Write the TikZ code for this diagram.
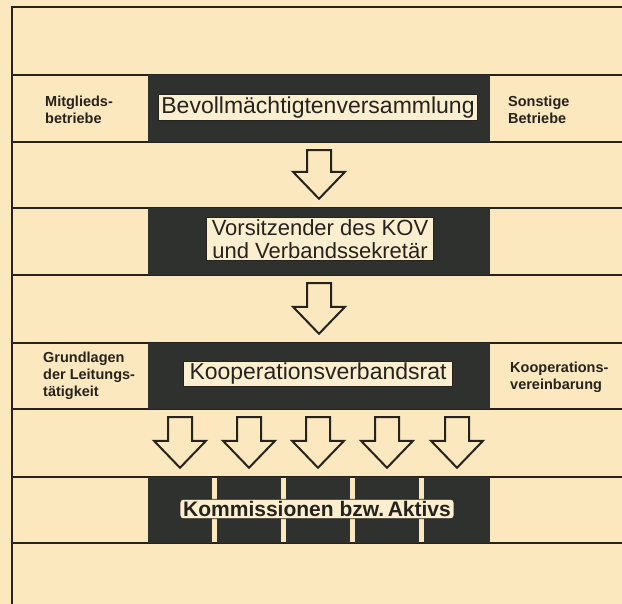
\documentclass[tikz,border=0pt]{standalone}
\usepackage{fontspec}
\setmainfont{Liberation Sans}
\usepackage{xcolor}
\usetikzlibrary{positioning, calc}
\definecolor{paper}{RGB}{251,232,190}
\definecolor{paperL}{RGB}{252,239,208}
\definecolor{ink}{RGB}{38,34,30}
\definecolor{slate}{RGB}{47,49,46}
\tikzset{
  rule/.style={draw=ink, line width=1.6pt},
  band/.style={draw=none, fill=slate, inner sep=0pt,
               minimum width=342pt, minimum height=67pt},
  tbox/.style={draw=ink, line width=0.6pt, fill=paperL, text=ink,
               inner xsep=3pt, inner ysep=2pt, align=center,
               font=\fontsize{23}{20}\selectfont},
  lbl/.style={anchor=west, align=left, inner sep=0pt, text=ink,
              font=\fontsize{14.5}{17}\selectfont\bfseries},
  blockarrow/.style={draw=ink, line width=2pt, fill=paper, line join=miter,
    to path={let \p1=(\tikztostart), \p2=(\tikztotarget) in
      (\x2-12pt,\y1-8pt) -- (\x2+12pt,\y1-8pt) -- (\x2+12pt,\y2+36pt)
      -- (\x2+26pt,\y2+36pt) -- (\x2,\y2+9pt) -- (\x2-26pt,\y2+36pt)
      -- (\x2-12pt,\y2+36pt) -- cycle}},
}
\begin{document}
\begin{tikzpicture}[x=1pt, y=-1pt]
    \fill[paper] (0,0) rectangle (622,604);
    \useasboundingbox (0,0) rectangle (622,604);
    %% frame and band rules
    \draw[rule] (12,604) -- (12,7) -- (622,7);
    \foreach \y in {75,142,208,275,343,409,477,543}{
      \draw[rule] (12,\y) -- (622,\y);
    }
    %% dark bands
    \node[band] (bevB) at (319,108.5) {};
    \node[band] (vorB) at (319,241.5) {};
    \node[band, minimum height=66pt] (koopB) at (319,376) {};
    \foreach \i/\xc/\w in {1/180/64, 2/249/64, 3/318/64, 4/387/64, 5/457/66}{
      \node[band, minimum height=66pt, minimum width=\w pt] (kom\i) at (\xc,510) {};
    }
    %% text boxes
    \node[tbox] (bev) at (318,107.5) {Bevollmächtigtenversammlung};
    \node[tbox, inner xsep=5pt, font=\fontsize{22}{22.5}\selectfont]
      (vor) at (320,239) {Vorsitzender des KOV\\und Verbandssekretär};
    \node[tbox, inner xsep=6pt] (koop) at (318,374) {Kooperationsverbandsrat};
    \node[tbox, rounded corners=3pt, font=\fontsize{21}{20}\selectfont\bfseries]
      (kom) at (317,509) {Kommissionen bzw.\,Aktivs};
    %% side labels
    \node[lbl] (mitg) at (45,110) {Mitglieds-\\betriebe};
    \node[lbl] (sonst) at (508,110) {Sonstige\\Betriebe};
    \node[lbl] (grund) at (43,376) {Grundlagen\\der Leitungs-\\tätigkeit};
    \node[lbl] (koopv) at (510,377) {Kooperations-\\vereinbarung};
    %% arrows
    \draw[blockarrow] (bevB.south) to (vorB.north);
    \draw[blockarrow] (vorB.south) to (koopB.north);
    \foreach \i in {1,...,5}{
      \draw[blockarrow] (koopB.south) to (kom\i.north);
    }
\end{tikzpicture}
\end{document}
